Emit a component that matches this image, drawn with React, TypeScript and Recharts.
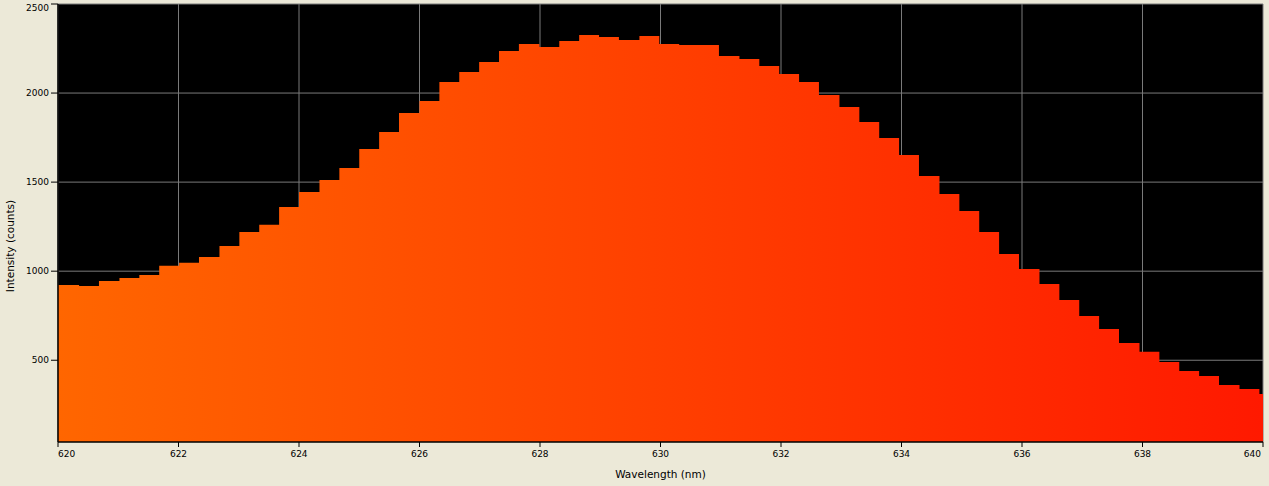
import React from 'react';
import { AreaChart, Area, XAxis, YAxis, CartesianGrid, Label } from 'recharts';

const wavelengths: number[] = [
  620.0, 620.35, 620.68, 621.02, 621.35, 621.68, 622.01, 622.34, 622.68, 623.01,
  623.34, 623.67, 624.0, 624.34, 624.67, 625.0, 625.33, 625.66, 626.0, 626.33,
  626.66, 626.99, 627.32, 627.65, 627.99, 628.32, 628.65, 628.98, 629.31, 629.65,
  629.98, 630.31, 630.64, 630.97, 631.31, 631.64, 631.97, 632.3, 632.63, 632.97,
  633.3, 633.63, 633.96, 634.29, 634.63, 634.96, 635.29, 635.62, 635.95, 636.29,
  636.62, 636.95, 637.28, 637.61, 637.95, 638.28, 638.61, 638.94, 639.27, 639.61,
  639.94, 640.0,
];

const intensity: number[] = [
  923, 917, 945, 962, 979, 1030, 1047, 1080, 1142, 1220,
  1260, 1361, 1445, 1512, 1579, 1686, 1781, 1888, 1955, 2062,
  2118, 2174, 2236, 2275, 2259, 2292, 2326, 2315, 2298, 2320,
  2275, 2270, 2270, 2208, 2191, 2152, 2107, 2062, 1989, 1922,
  1838, 1748, 1652, 1535, 1433, 1338, 1220, 1097, 1012, 928,
  838, 749, 676, 597, 547, 490, 440, 412, 361, 339,
  311, 311,
];

const xTicks: number[] = [620, 622, 624, 626, 628, 630, 632, 634, 636, 638, 640];
const yTicks: number[] = [500, 1000, 1500, 2000, 2500];

const data = wavelengths.map((w, i) => ({ w, v: intensity[i] }));

const FONT = 'DejaVu Sans';

const XTick = (props: any) => {
  const { x, y, payload } = props;
  const val = payload.value;
  const first = val === xTicks[0];
  const last = val === xTicks[xTicks.length - 1];
  const anchor = first ? 'start' : last ? 'end' : 'middle';
  const tx = last ? x - 2 : x;
  return (
    <text
      x={tx}
      y={y}
      dy="0.71em"
      textAnchor={anchor}
      fontFamily={FONT}
      fontSize={9}
      fill="#000"
    >
      {val}
    </text>
  );
};

const YTick = (props: any) => {
  const { x, y, payload } = props;
  const val = payload.value;
  const top = val === yTicks[yTicks.length - 1];
  return (
    <text
      x={x}
      y={top ? y + 7 : y}
      dy={top ? 0 : '0.355em'}
      textAnchor="end"
      fontFamily={FONT}
      fontSize={9}
      fill="#000"
    >
      {val}
    </text>
  );
};

const YLabel = (props: any) => {
  const vb = props.viewBox || { x: 0, y: 0, width: 0, height: 0 };
  const x = vb.x + 10;
  const y = vb.y + vb.height / 2 + 23;
  return (
    <text
      x={x}
      y={y}
      transform={`rotate(-90 ${x} ${y})`}
      textAnchor="middle"
      dominantBaseline="central"
      fontFamily={FONT}
      fontSize={10.5}
      fill="#000"
    >
      Intensity (counts)
    </text>
  );
};

const XLabel = (props: any) => {
  const vb = props.viewBox || { x: 0, y: 0, width: 0, height: 0 };
  return (
    <text
      x={vb.x + vb.width / 2}
      y={vb.y + 36}
      textAnchor="middle"
      fontFamily={FONT}
      fontSize={10.5}
      fill="#000"
    >
      Wavelength (nm)
    </text>
  );
};

export default function App() {
  return (
    <div
      style={{
        position: 'absolute',
        left: 0,
        top: 0,
        width: 1269,
        height: 486,
        background: '#ECE9D8',
        overflow: 'hidden',
      }}
    >
      <AreaChart
        width={1269}
        height={486}
        data={data}
        margin={{ top: 4, right: 6, left: 0, bottom: 0 }}
      >
        <defs>
          <linearGradient id="specGrad" x1="0" y1="0" x2="1" y2="0">
            <stop offset="0%" stopColor="#FF6600" />
            <stop offset="100%" stopColor="#FF1900" />
          </linearGradient>
        </defs>
        <CartesianGrid
          stroke="#7a7a7a"
          strokeWidth={1}
          fill="#000000"
          fillOpacity={1}
          horizontalValues={yTicks}
          verticalValues={xTicks}
        />
        <XAxis
          dataKey="w"
          type="number"
          domain={[620, 640]}
          ticks={xTicks}
          allowDataOverflow
          height={44}
          tickSize={5}
          tickMargin={4}
          stroke="#000"
          axisLine={{ stroke: '#000', strokeWidth: 1.5 }}
          tickLine={{ stroke: '#000' }}
          tick={<XTick />}
          interval={0}
        >
          <Label content={<XLabel />} />
        </XAxis>
        <YAxis
          type="number"
          domain={[41, 2500]}
          ticks={yTicks}
          allowDataOverflow
          width={58}
          tickSize={7}
          tickMargin={2}
          stroke="#000"
          axisLine={{ stroke: '#000', strokeWidth: 1.5 }}
          tickLine={{ stroke: '#000' }}
          tick={<YTick />}
          interval={0}
        >
          <Label content={<YLabel />} />
        </YAxis>
        <Area
          type="stepAfter"
          dataKey="v"
          stroke="none"
          fill="url(#specGrad)"
          fillOpacity={1}
          isAnimationActive={false}
          dot={false}
          activeDot={false}
        />
      </AreaChart>
    </div>
  );
}
